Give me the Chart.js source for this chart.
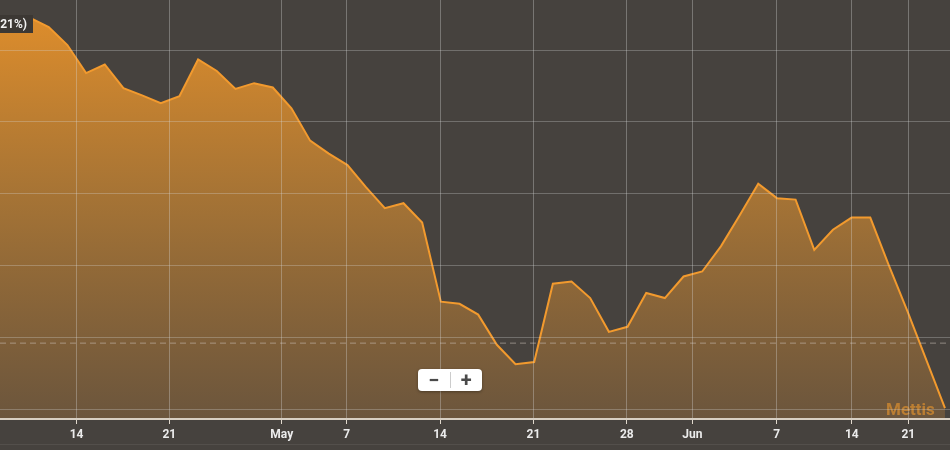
<!DOCTYPE html>
<html lang="en">
<head>
  <meta charset="UTF-8" />
  <title>Index</title>
  <script src="https://cdn.jsdelivr.net/npm/chart.js"></script>
  <style>
    html, body { margin: 0; padding: 0; background: #46423e; }
    #wrap { position: relative; width: 950px; height: 450px; overflow: hidden; }
    canvas { display: block; }
    .zoom {
      position: absolute; left: 418px; top: 369px; width: 64px; height: 22px;
      background: #fff; border-radius: 4px; box-shadow: 0 1px 3px rgba(0,0,0,0.35);
      display: flex; align-items: center; font-family: Roboto, sans-serif;
      font-weight: bold; font-size: 20px; color: #4a4a4a;
    }
    .zoom span { flex: 1; text-align: center; line-height: 22px; }
    .zoom .sep { flex: 0 0 1px; height: 16px; background: #ccc; }
  </style>
</head>
<body>
<div id="wrap">
  <canvas id="chart" width="950" height="450"></canvas>
  <div class="zoom"><span>−</span><span class="sep"></span><span>+</span></div>
</div>

<script>
  // daily closes (trading days, ordinal axis), first point sits just off the left edge
  const closes = [
    4534, 4536, 4545, 4532, 4507, 4468, 4480, 4447, 4437, 4426,
    4436, 4487, 4471, 4446, 4454, 4448, 4419, 4374, 4356, 4340,
    4309, 4280, 4287, 4260, 4150, 4147, 4132, 4090, 4063, 4066,
    4175, 4178, 4155, 4108, 4115, 4162, 4155, 4185, 4192, 4227,
    4270, 4314, 4294, 4292, 4222, 4250, 4267, 4267, 4200, 4136,
    4069, 4002
  ];
  const firstIndex = -1;
  const baseline = 4093;

  // date labels and where they fall on the trading-day index
  const tickLabels = ['14', '21', 'May', '7', '14', '21', '28', 'Jun', '7', '14', '21'];
  const tickPos = [3.49, 8.46, 14.48, 17.96, 22.96, 27.96, 32.96, 36.47, 40.99, 45.01, 48.04];
  const yGrid = [4000, 4100, 4200, 4300, 4400, 4500];

  const points = closes.map((v, i) => ({ x: i + firstIndex, y: v }));

  const bgPlugin = {
    id: 'bg',
    beforeDraw(chart) {
      const ctx = chart.ctx;
      ctx.save();
      ctx.fillStyle = '#46423e';
      ctx.fillRect(0, 0, chart.width, chart.height);
      ctx.restore();
    }
  };

  const overlayPlugin = {
    id: 'overlay',
    afterDatasetsDraw(chart) {
      const ctx = chart.ctx;
      const a = chart.chartArea;
      const yb = chart.scales.y.getPixelForValue(baseline);
      ctx.save();
      ctx.strokeStyle = 'rgba(205,195,185,0.55)';
      ctx.lineWidth = 1;
      ctx.setLineDash([6, 4]);
      ctx.beginPath();
      ctx.moveTo(a.left, yb + 0.5);
      ctx.lineTo(a.right, yb + 0.5);
      ctx.stroke();
      ctx.setLineDash([]);

      // watermark
      ctx.font = 'bold 17px Roboto, sans-serif';
      ctx.fillStyle = 'rgba(206,136,48,0.8)';
      ctx.textBaseline = 'alphabetic';
      ctx.fillText('Mettis', 886, 415);
      ctx.restore();
    },
    afterDraw(chart) {
      const ctx = chart.ctx;
      ctx.save();
      // series label box, cut at the left edge
      ctx.fillStyle = '#3c3834';
      ctx.fillRect(0, 15, 33, 18);
      ctx.font = 'bold 12px Roboto, sans-serif';
      ctx.fillStyle = '#f2f2f2';
      ctx.textBaseline = 'middle';
      ctx.fillText('(21%)', -4, 24.5);
      // faint navigator edge
      ctx.fillStyle = 'rgba(255,255,255,0.07)';
      ctx.fillRect(0, 444, chart.width, 1);
      ctx.restore();
    }
  };

  new Chart(document.getElementById('chart'), {
    type: 'line',
    data: {
      datasets: [{
        data: points,
        borderColor: '#f29a2e',
        borderWidth: 2,
        pointRadius: 0,
        tension: 0,
        fill: 'start',
        backgroundColor: (context) => {
          const { ctx, chartArea } = context.chart;
          if (!chartArea) return 'rgba(220,140,45,0.8)';
          const g = ctx.createLinearGradient(0, chartArea.top, 0, chartArea.bottom);
          g.addColorStop(0, 'rgba(232,146,42,0.97)');
          g.addColorStop(0.5, 'rgba(178,122,52,0.85)');
          g.addColorStop(1, 'rgba(120,92,60,0.75)');
          return g;
        }
      }]
    },
    options: {
      responsive: false,
      animation: false,
      layout: { padding: 0 },
      plugins: { legend: { display: false }, tooltip: { enabled: false } },
      scales: {
        x: {
          type: 'linear',
          min: -0.61,
          max: 50.27,
          afterBuildTicks: (scale) => { scale.ticks = tickPos.map(v => ({ value: v })); },
          afterFit: (scale) => { scale.height = 31; },
          ticks: {
            autoSkip: false,
            maxRotation: 0,
            padding: 4,
            color: '#ececec',
            font: { family: 'Roboto, sans-serif', size: 12, weight: 'bold' },
            callback: (value, index) => tickLabels[index]
          },
          grid: {
            color: 'rgba(215,215,215,0.35)',
            tickColor: '#e0d8cc',
            tickLength: 5,
            z: 1
          },
          border: { display: true, color: '#d8cfc2', width: 2, z: 1 }
        },
        y: {
          min: 3986.75,
          max: 4569.7,
          afterBuildTicks: (scale) => { scale.ticks = yGrid.map(v => ({ value: v })); },
          afterFit: (scale) => { scale.width = 0; },
          ticks: { display: false },
          grid: { color: 'rgba(215,215,215,0.3)', drawTicks: false, z: 1 },
          border: { display: false }
        }
      }
    },
    plugins: [bgPlugin, overlayPlugin]
  });
</script>
</body>
</html>
